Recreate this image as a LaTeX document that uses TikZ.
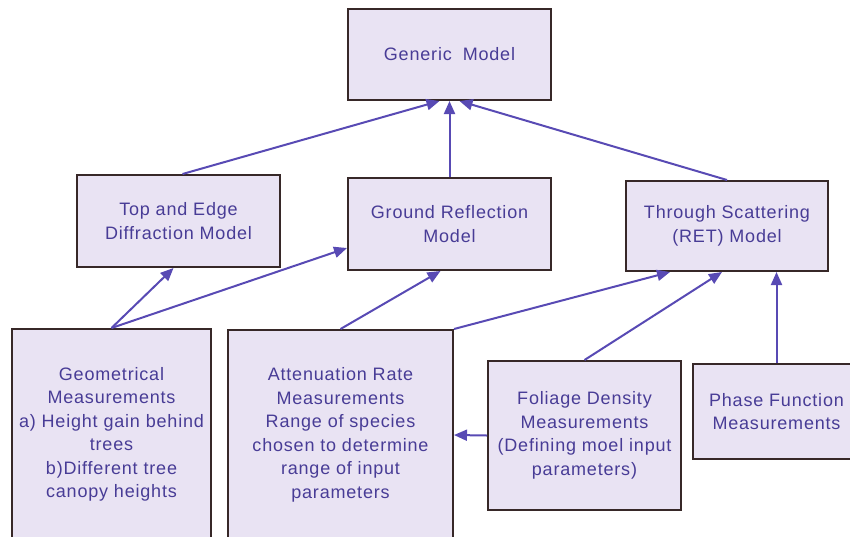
\documentclass[tikz,border=0pt]{standalone}
\usepackage{fontspec}
\setmainfont[LetterSpace=4.5]{Liberation Sans}
\usetikzlibrary{arrows.meta}
\definecolor{boxfill}{RGB}{233,227,243}
\definecolor{boxline}{RGB}{55,40,40}
\definecolor{linkblue}{RGB}{88,74,180}
\definecolor{textblue}{RGB}{72,60,150}
\begin{document}
\begin{tikzpicture}[x=1pt, y=-1pt,
	box/.style={draw=boxline, line width=2pt, fill=boxfill, text=textblue, align=center,
		font=\fontsize{18}{23.5}\selectfont, inner sep=0pt},
	link/.style={draw=linkblue, line width=2pt, -{Triangle[length=13pt, width=11pt]}}]
	\useasboundingbox (0,0) rectangle (850,536);
	\clip (0,0) rectangle (850,536);
		\node[box, minimum width=203pt, minimum height=91pt] (generic) at (449.5,54.5) {Generic\hspace{11pt}Model};
		\node[box, minimum width=203pt, minimum height=92pt] (topedge) at (178.5,221) {Top and Edge\\Diffraction Model};
		\node[box, minimum width=203pt, minimum height=92pt] (ground) at (449.5,224) {Ground Reflection\\Model};
		\node[box, minimum width=202pt, minimum height=90pt] (scatter) at (727,226) {Through Scattering\\(RET) Model};
		\node[box, minimum width=199pt, minimum height=211pt] (geom) at (111.5,434.5) {Geometrical\\Measurements\\a) Height gain behind\\trees\\b)Different tree\\canopy heights};
		\node[box, minimum width=225pt, minimum height=210pt] (atten) at (340.5,435) {Attenuation Rate\\Measurements\\Range of species\\chosen to determine\\range of input\\parameters};
		\node[box, minimum width=193pt, minimum height=149pt] (foliage) at (584.5,435.5) {Foliage Density\\Measurements\\(Defining moel input\\parameters)};
		\node[box, minimum width=167pt, minimum height=95pt] (phase) at (776.5,411.5) {Phase Function\\Measurements};
		\draw[link] ([xshift=4pt]topedge.north) -- ([xshift=-10pt]generic.south);
		\draw[link] (ground.north) -- (generic.south);
		\draw[link] (scatter.north) -- ([xshift=10pt]generic.south);
		\draw[link] (geom.north) -- ([xshift=-5pt]topedge.south);
		\draw[link] (geom.north) -- ([yshift=-24pt]ground.west);
		\draw[link] (atten.north) -- ([xshift=-9pt]ground.south);
		\draw[link] (atten.north east) -- ([xshift=-57pt]scatter.south);
		\draw[link] (foliage.north) -- ([xshift=-5pt]scatter.south);
		\draw[link] (phase.north) -- (phase.north |- scatter.south);
		\draw[link] (foliage.west) -- (atten.east);
	\end{tikzpicture}
\end{document}
